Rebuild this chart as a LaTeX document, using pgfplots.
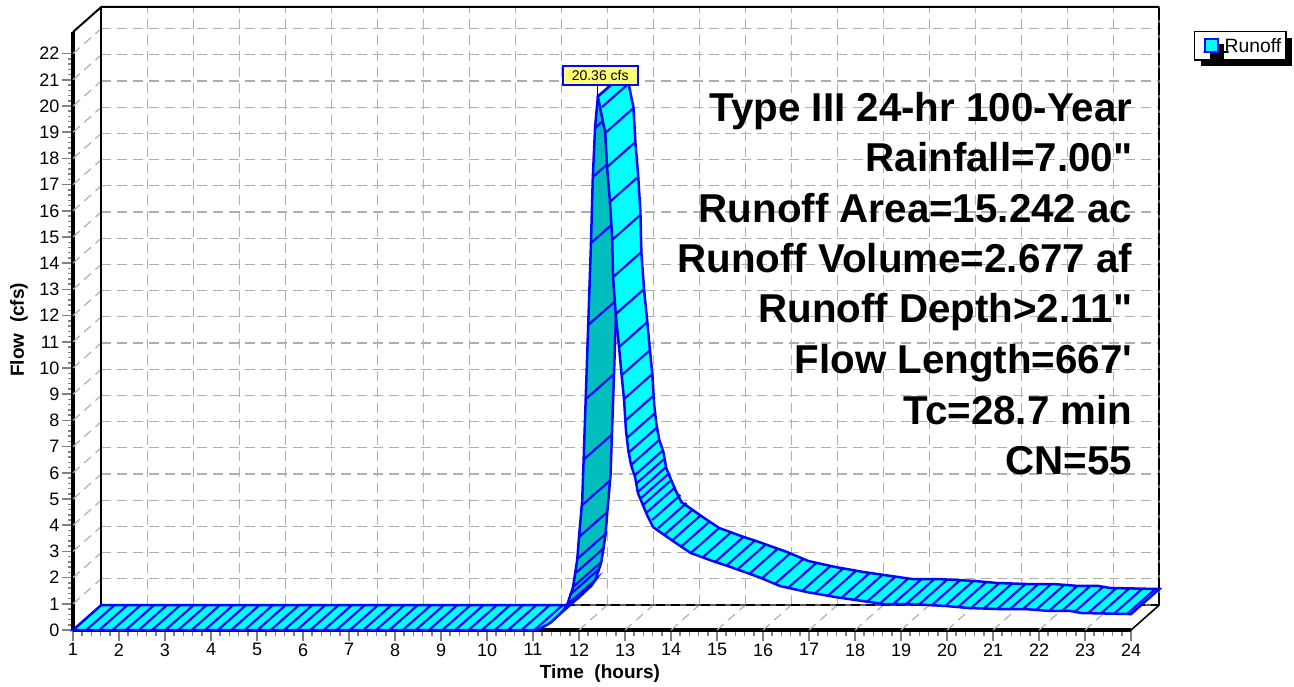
\documentclass[border=0pt]{standalone}
\usepackage{fontspec}
\setmainfont{Liberation Sans}[Ligatures=TeXOff]
\usepackage{pgfplots}
\usepackage{pgfplotstable}
\usetikzlibrary{shadows}
\pgfplotsset{compat=1.18}
\definecolor{hb}{RGB}{5,5,250}
\definecolor{cy}{RGB}{0,255,255}
\definecolor{dk}{RGB}{0,190,190}
\definecolor{gd}{RGB}{175,175,175}
\definecolor{tk}{RGB}{130,130,130}
\definecolor{lab}{RGB}{255,255,120}

\pgfplotstableread{
t f
1.29 0
1.57 0
1.86 0
2.15 0
2.43 0
2.72 0
3.01 0
3.29 0
3.58 0
3.87 0
4.15 0
4.44 0
4.73 0
5.01 0
5.30 0
5.59 0
5.87 0
6.16 0
6.45 0
6.73 0
7.02 0
7.31 0
7.59 0
7.88 0
8.17 0
8.45 0
8.74 0
9.03 0
9.31 0
9.60 0
9.89 0
10.17 0
10.46 0
10.75 0
11.03 0
11.37 0.27
11.65 0.73
}\hatchlow
\pgfplotstableread{
t f
12.35 19.16
12.30 17.29
12.26 14.77
12.20 11.64
12.15 8.82
12.09 6.49
12.07 4.77
12.00 3.55
11.96 2.71
11.93 2.18
11.87 1.64
11.80 1.34
}\hatchrise
\pgfplotstableread{
t f
12.50 19.96
12.57 18.97
12.61 17.67
12.67 16.34
12.72 14.89
12.74 13.47
12.80 12.06
12.87 10.80
12.93 9.73
12.98 8.82
13.00 7.98
13.04 7.33
13.07 6.76
13.13 6.30
13.22 5.92
13.26 5.61
13.28 5.27
13.35 5.04
13.39 4.77
13.48 4.50
13.59 4.20
13.72 3.89
13.87 3.66
14.04 3.44
14.24 3.21
14.43 2.94
14.70 2.79
14.96 2.60
15.22 2.48
15.43 2.29
15.70 2.14
15.98 1.98
16.26 1.76
16.54 1.60
16.85 1.49
17.13 1.40
17.41 1.31
17.70 1.22
17.98 1.15
18.26 1.08
18.54 1.01
18.83 0.99
19.11 0.99
19.39 0.97
19.67 0.95
19.96 0.92
20.24 0.88
20.52 0.84
20.80 0.82
21.09 0.80
21.37 0.80
21.65 0.80
21.93 0.76
22.22 0.73
22.50 0.73
22.78 0.70
23.07 0.65
23.35 0.64
23.63 0.62
23.91 0.61
}\hatchfall

\begin{document}
\begin{tikzpicture}
\begin{axis}[
  scale only axis, width=1058pt, height=598pt,
  xmin=1, xmax=24, ymin=0, ymax=22.824,
  axis x line*=bottom, axis y line*=left,
  axis line style={black,line width=3.2pt},
  clip=false,
  xtick={1,...,24}, ytick={0,...,22},
  minor x tick num=4, minor y tick num=4,
  tick align=outside,
  major tick length=11pt, minor tick length=5.5pt,
  major tick style={tk,line width=1.5pt},
  minor tick style={tk,line width=1.5pt},
  /pgf/number format/assume math mode=true,
  tick label style={font=\fontsize{18}{18}\selectfont},
  xticklabel style={yshift=1pt},
  yticklabel style={xshift=1pt},
  xlabel={\textbf{Time\ \ (hours)}}, ylabel={\textbf{Flow\ \ (cfs)}},
  every axis x label/.style={at={(axis description cs:0.498,-0.0736)},anchor=center,font=\fontsize{19}{19}\selectfont},
  every axis y label/.style={at={(axis description cs:-0.051,0.502)},anchor=center,rotate=90,font=\fontsize{19}{19}\selectfont},
  legend style={at={(axis description cs:1.0595,1.0017)},anchor=north west,
    draw=black,line width=1.5pt,fill=white,
    font=\fontsize{19.3}{20}\selectfont,
    general shadow={shadow xshift=6pt,shadow yshift=-6pt,fill=black,shadow scale=1},
    inner xsep=3pt,inner ysep=4.5pt},
  legend cell align=left,
]
% back-wall grid and side-wall/floor guides
\addplot[forget plot,gd,line width=1.3pt,dash pattern=on 10pt off 6pt,quiver={u=0,v=22.82}] coordinates {
(2.615,0.955)(3.615,0.955)(4.615,0.955)(5.615,0.955)(6.615,0.955)(7.615,0.955)(8.615,0.955)(9.615,0.955)
(10.615,0.955)(11.615,0.955)(12.615,0.955)(13.615,0.955)(14.615,0.955)(15.615,0.955)(16.615,0.955)
(17.615,0.955)(18.615,0.955)(19.615,0.955)(20.615,0.955)(21.615,0.955)(22.615,0.955)(23.615,0.955)};
\addplot[forget plot,gd,line width=1.3pt,dash pattern=on 10pt off 6pt,quiver={u=23,v=0}] coordinates {
(1.615,1.955)(1.615,2.955)(1.615,3.955)(1.615,4.955)(1.615,5.955)(1.615,6.955)(1.615,7.955)(1.615,8.955)
(1.615,9.955)(1.615,10.955)(1.615,11.955)(1.615,12.955)(1.615,13.955)(1.615,14.955)(1.615,15.955)
(1.615,16.955)(1.615,17.955)(1.615,18.955)(1.615,19.955)(1.615,20.955)(1.615,21.955)(1.615,22.955)};
\addplot[forget plot,gd,line width=1.2pt,dash pattern=on 9pt off 6pt,quiver={u=0.615,v=0.955}] coordinates {
(1,1)(1,2)(1,3)(1,4)(1,5)(1,6)(1,7)(1,8)(1,9)(1,10)(1,11)(1,12)(1,13)(1,14)(1,15)(1,16)(1,17)(1,18)(1,19)(1,20)(1,21)(1,22)
(2,0)(3,0)(4,0)(5,0)(6,0)(7,0)(8,0)(9,0)(10,0)(11,0)(12,0)(13,0)(14,0)(15,0)(16,0)(17,0)(18,0)(19,0)(20,0)(21,0)(22,0)(23,0)};
% walls
\addplot[forget plot,tk!70!black,line width=2pt] coordinates {(1.615,0.955)(24.615,0.955)};
\addplot[forget plot,black,line width=1.4pt,dash pattern=on 9pt off 6pt] coordinates {(1.615,0.955)(24.615,0.955)};
\addplot[forget plot,tk!70!black,line width=2pt] coordinates {(24.615,0.955)(24.615,23.78)};
\addplot[forget plot,black,line width=2pt,dash pattern=on 12pt off 3pt] coordinates {(24.615,0.955)(24.615,23.78)};
\addplot[forget plot,black,line width=2.4pt] coordinates {(1.615,0.955)(1.615,23.78)};
\addplot[forget plot,black,line width=2pt] coordinates {(1,22.824)(1.615,23.78)(24.615,23.78)};
\addplot[forget plot,black,line width=1.6pt] coordinates {(24,0)(24.615,0.955)};
% ribbon: low part
\addplot[forget plot,fill=cy,draw=hb,line width=2.5pt] coordinates {
(1,0)(11.11,0)(11.37,0.27)(11.65,0.73)(11.74,0.95)
(12.355,1.905)(12.265,1.685)(11.985,1.225)(11.725,0.955)(1.615,0.955)} -- cycle;
\addplot[forget plot,hb,line width=2.2pt,quiver={u=0.615,v=0.955}] table[x=t,y=f] {\hatchlow};
% ribbon: rising part (underside)
\addplot[forget plot,fill=dk,draw=hb,line width=2.5pt] coordinates {
(11.74,0.95)(11.87,1.64)(11.96,2.67)(12.00,3.55)(12.07,4.96)(12.13,8.02)(12.26,14.77)(12.30,17.29)(12.35,19.20)(12.41,20.36)
(13.025,21.315)(12.965,20.155)(12.915,18.245)(12.875,15.725)(12.745,8.975)(12.685,5.915)(12.615,4.505)(12.575,3.625)(12.485,2.595)(12.355,1.905)} -- cycle;
\addplot[forget plot,hb,line width=2.2pt,quiver={u=0.615,v=0.955}] table[x=t,y=f] {\hatchrise};
% ribbon: falling part
\addplot[forget plot,fill=cy,draw=hb,line width=2.5pt] coordinates {
(12.41,20.36)(12.57,18.97)(12.61,17.67)(12.67,16.41)(12.72,15.00)(12.74,13.47)(12.80,12.02)(12.87,10.80)(12.93,9.66)(12.98,8.78)
(13.02,7.63)(13.07,6.87)(13.13,6.30)(13.22,5.84)(13.28,5.23)(13.37,4.85)(13.48,4.39)(13.61,3.93)(14.04,3.40)(14.43,2.94)
(14.96,2.60)(15.24,2.44)(15.72,2.14)(15.91,2.02)(16.37,1.68)(16.96,1.45)(17.57,1.26)(18.00,1.15)(18.63,0.99)(19.20,0.99)
(19.96,0.92)(20.48,0.84)(21.15,0.80)(21.70,0.80)(22.22,0.73)(22.67,0.73)(22.93,0.65)(24,0.61)
(24.615,1.565)(23.545,1.605)(23.285,1.685)(22.835,1.685)(22.315,1.755)(21.765,1.755)(21.095,1.795)(20.575,1.875)(19.815,1.945)(19.245,1.945)
(18.615,2.105)(18.185,2.215)(17.575,2.405)(16.985,2.635)(16.525,2.975)(16.335,3.095)(15.855,3.395)(15.575,3.555)(15.045,3.895)(14.655,4.355)
(14.225,4.885)(14.095,5.345)(13.985,5.805)(13.895,6.185)(13.835,6.795)(13.745,7.255)(13.685,7.825)(13.635,8.585)(13.595,9.735)(13.545,10.615)
(13.485,11.755)(13.415,12.975)(13.355,14.425)(13.335,15.955)(13.285,17.365)(13.225,18.625)(13.185,19.925)(13.025,21.315)} -- cycle;
\addplot[forget plot,hb,line width=2.2pt,quiver={u=0.615,v=0.955}] table[x=t,y=f] {\hatchfall};
% peak label
\addplot[forget plot,black,line width=1.2pt] coordinates {(12.41,20.36)(12.41,20.9)};
\node[draw=hb,fill=lab,line width=1.8pt,font=\fontsize{14}{14}\selectfont,minimum width=75pt,minimum height=18.5pt,inner sep=0pt] at (axis cs:12.46,21.16) {20.36 cfs};
% annotation text
\begingroup
\def\bigl#1#2{\node[anchor=base east,inner sep=0pt,xshift=1.5pt,font=\fontsize{40.3}{40}\selectfont\bfseries] at (axis cs:24,#1) {#2};}
\bigl{19.42}{Type III 24-hr 100-Year}
\bigl{17.49}{Rainfall=7.00"}
\bigl{15.57}{Runoff Area=15.242 ac}
\bigl{13.64}{Runoff Volume=2.677 af}
\bigl{11.72}{Runoff Depth>2.11"}
\bigl{9.79}{Flow Length=667'}
\bigl{7.86}{Tc=28.7 min}
\bigl{5.94}{CN=55}
\endgroup
\addlegendimage{legend image code/.code={\path[draw=none,fill=none] (0pt,0pt) rectangle (25pt,0pt);\draw[draw=hb,fill=cy,line width=2pt] (7pt,-6pt) rectangle (20pt,7pt);}}
\addlegendentry{Runoff}
\path[draw=none] (axis cs:-0.587,-1.985) rectangle (axis cs:27.543,24.046);
\end{axis}
\end{tikzpicture}
\end{document}
